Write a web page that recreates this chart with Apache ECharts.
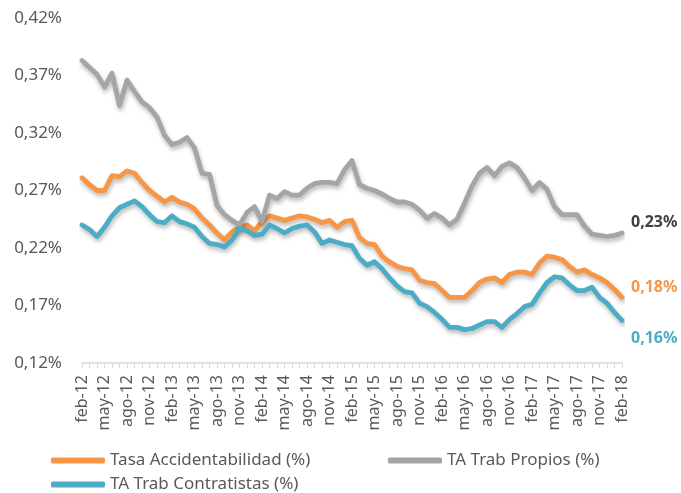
<!DOCTYPE html>
<html lang="es">
<head>
<meta charset="UTF-8">
<title>Tasa Accidentabilidad</title>
<script src="https://cdn.jsdelivr.net/npm/echarts@6/dist/echarts.min.js"></script>
<style>
  html, body { margin: 0; padding: 0; background: #fff; }
  #main { width: 681px; height: 493px; }
</style>
</head>
<body>
<div id="main"></div>
<script>
// meses feb-12 .. feb-18
var meses = ['ene', 'feb', 'mar', 'abr', 'may', 'jun', 'jul', 'ago', 'sep', 'oct', 'nov', 'dic'];
var categorias = [];
for (var a = 12; a <= 18; a++) {
    for (var m = 0; m < 12; m++) {
        if (a === 12 && m < 1) continue;
        if (a === 18 && m > 1) continue;
        categorias.push(meses[m] + '-' + a);
    }
}

// valores en %
var tasaAccidentabilidad = [
    0.281, 0.275, 0.270, 0.270, 0.283, 0.282, 0.287, 0.285, 0.277, 0.270,
    0.265, 0.260, 0.264, 0.260, 0.258, 0.254, 0.246, 0.240, 0.233, 0.227,
    0.234, 0.238, 0.240, 0.235, 0.243, 0.248, 0.246, 0.244, 0.246, 0.248,
    0.247, 0.245, 0.242, 0.244, 0.238, 0.243, 0.244, 0.229, 0.224, 0.223,
    0.213, 0.208, 0.204, 0.202, 0.201, 0.192, 0.190, 0.189, 0.183, 0.177,
    0.177, 0.177, 0.183, 0.190, 0.193, 0.194, 0.190, 0.197, 0.199, 0.199,
    0.197, 0.207, 0.213, 0.212, 0.210, 0.204, 0.199, 0.201, 0.197, 0.194,
    0.190, 0.184, 0.177
];
var trabPropios = [
    0.383, 0.377, 0.371, 0.360, 0.372, 0.344, 0.366, 0.356, 0.347, 0.342,
    0.334, 0.318, 0.310, 0.312, 0.316, 0.307, 0.285, 0.284, 0.257, 0.249,
    0.244, 0.240, 0.251, 0.256, 0.243, 0.266, 0.263, 0.269, 0.266, 0.266,
    0.272, 0.276, 0.277, 0.277, 0.276, 0.288, 0.296, 0.275, 0.272, 0.270,
    0.267, 0.263, 0.260, 0.260, 0.258, 0.253, 0.246, 0.250, 0.246, 0.240,
    0.245, 0.259, 0.274, 0.285, 0.290, 0.283, 0.291, 0.294, 0.290, 0.281,
    0.270, 0.277, 0.271, 0.256, 0.249, 0.249, 0.249, 0.239, 0.232, 0.231,
    0.230, 0.231, 0.233
];
var trabContratistas = [
    0.240, 0.236, 0.230, 0.238, 0.248, 0.255, 0.258, 0.261, 0.256, 0.249,
    0.243, 0.242, 0.248, 0.243, 0.241, 0.238, 0.230, 0.224, 0.223, 0.221,
    0.227, 0.237, 0.235, 0.231, 0.232, 0.240, 0.237, 0.233, 0.237, 0.239,
    0.240, 0.234, 0.224, 0.227, 0.225, 0.223, 0.222, 0.211, 0.205, 0.208,
    0.202, 0.194, 0.187, 0.182, 0.181, 0.172, 0.169, 0.164, 0.158, 0.151,
    0.151, 0.149, 0.150, 0.153, 0.156, 0.156, 0.151, 0.158, 0.163, 0.169,
    0.171, 0.181, 0.190, 0.195, 0.194, 0.188, 0.183, 0.183, 0.186, 0.177,
    0.172, 0.164, 0.157
];

var FUENTE = '"Noto Sans", sans-serif';
var GRIS_TXT = '#595959';

function pct(v) {
    return v.toFixed(2).replace('.', ',') + '%';
}

function serie(nombre, datos, color, colorEtq, dy) {
    return {
        name: nombre,
        type: 'line',
        data: datos,
        symbol: 'none',
        smooth: false,
        lineStyle: {
            color: color,
            width: 4.8,
            cap: 'round',
            join: 'round',
            shadowColor: 'rgba(0,0,0,0.28)',
            shadowBlur: 4,
            shadowOffsetX: 1,
            shadowOffsetY: 3
        },
        itemStyle: { color: color },
        endLabel: {
            show: true,
            distance: 0,
            offset: [9, dy],
            color: colorEtq,
            fontFamily: FUENTE,
            fontWeight: 'bold',
            fontSize: 16,
            formatter: function (p) { return pct(p.value); }
        }
    };
}

// una leyenda por elemento, colocada a mano
function leyenda(nombre, x, y) {
    return {
        left: x,
        top: y,
        itemWidth: 54,
        itemHeight: 6,
        icon: 'roundRect',
        data: [nombre],
        textStyle: { color: GRIS_TXT, fontFamily: FUENTE, fontSize: 17 }
    };
}

var myChart = echarts.init(document.getElementById('main'));

var option = {
    animation: false,
    backgroundColor: '#fff',
    grid: { left: 82, right: 59, top: 18, bottom: 130 },
    legend: [
        leyenda('Tasa Accidentabilidad (%)', 46, 447),
        leyenda('TA Trab Propios (%)', 383, 447),
        leyenda('TA Trab Contratistas (%)', 46, 471)
    ],
    xAxis: {
        type: 'category',
        boundaryGap: false,
        data: categorias,
        axisLine: { lineStyle: { color: '#d9d9d9', width: 1.5 } },
        axisTick: { interval: 0, length: 5, lineStyle: { color: '#d9d9d9' } },
        axisLabel: {
            interval: 2,
            rotate: 90,
            margin: 12,
            color: GRIS_TXT,
            fontFamily: FUENTE,
            fontSize: 16
        },
        splitLine: { show: false }
    },
    yAxis: {
        type: 'value',
        min: 0.12,
        max: 0.42,
        interval: 0.05,
        axisLine: { show: false },
        axisTick: { show: false },
        splitLine: { show: false },
        axisLabel: {
            margin: 20,
            color: GRIS_TXT,
            fontFamily: FUENTE,
            fontSize: 17,
            formatter: pct
        }
    },
    series: [
        serie('Tasa Accidentabilidad (%)', tasaAccidentabilidad, '#F79646', '#F79646', -10),
        serie('TA Trab Propios (%)', trabPropios, '#A5A5A5', '#404040', -11),
        serie('TA Trab Contratistas (%)', trabContratistas, '#4BACC6', '#4BACC6', 18)
    ]
};

myChart.setOption(option);
</script>
</body>
</html>
